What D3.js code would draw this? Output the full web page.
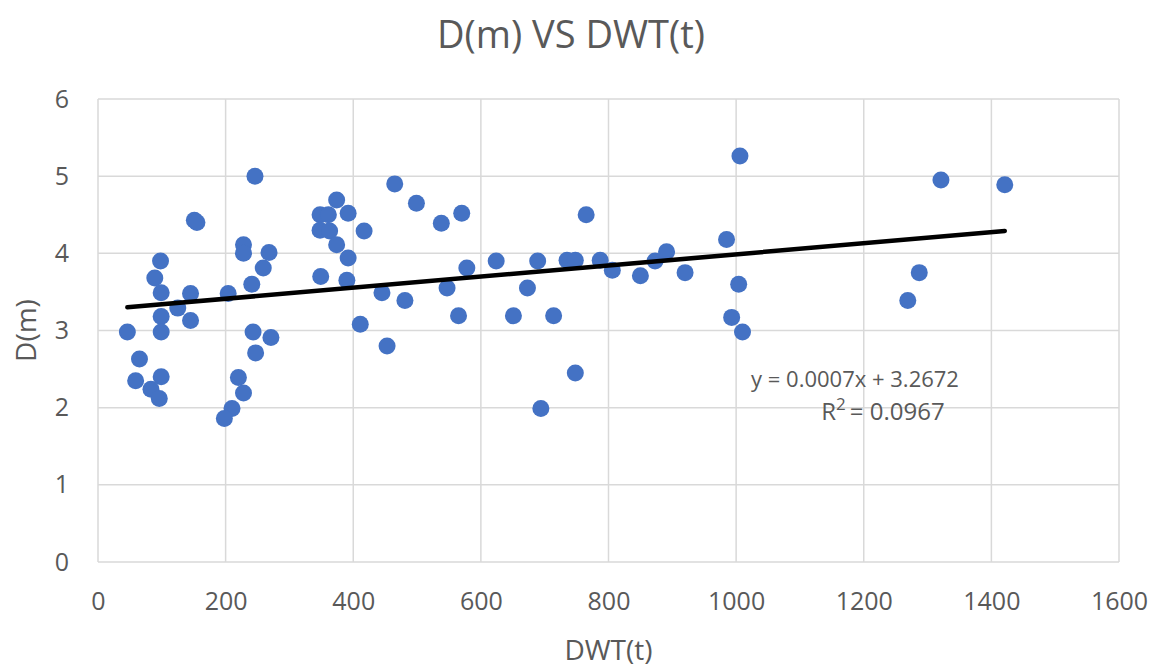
<!DOCTYPE html>
<html>
<head>
<meta charset="utf-8">
<script src="https://cdn.jsdelivr.net/npm/d3@7"></script>
<style>
  body { margin: 0; background: #fff; }
  text { font-family: "Open Sans", Lato, sans-serif; fill: #595959; }
</style>
</head>
<body>
<svg width="1153" height="670"></svg>
<script>
// DWT (t) and D (m)
var dwt = [246, 151, 155, 228, 228, 268, 98, 259, 89, 241, 99, 145, 204, 125, 99, 145, 46, 99, 243, 271,
           65, 247, 59, 99, 83, 96, 220, 228, 210, 198,
           465, 374, 499, 348, 361, 392, 570, 538, 348, 363, 417, 374, 392, 578, 349, 390, 445, 481, 547,
           411, 565, 453,
           765, 624, 689, 735, 748, 787, 806, 850, 873, 891, 673, 651, 714, 748, 694,
           1006, 985, 920, 1004, 993, 1010,
           1321, 1421, 1287, 1269];
var depth = [5.00, 4.43, 4.40, 4.11, 4.00, 4.01, 3.90, 3.81, 3.68, 3.60, 3.49, 3.48, 3.48, 3.29, 3.18, 3.13, 2.98, 2.98, 2.98, 2.91,
             2.63, 2.71, 2.35, 2.40, 2.24, 2.12, 2.39, 2.19, 1.99, 1.86,
             4.90, 4.69, 4.65, 4.50, 4.50, 4.52, 4.52, 4.39, 4.30, 4.29, 4.29, 4.11, 3.94, 3.81, 3.70, 3.65, 3.49, 3.39, 3.55,
             3.08, 3.19, 2.80,
             4.50, 3.90, 3.90, 3.91, 3.91, 3.91, 3.78, 3.71, 3.90, 4.02, 3.55, 3.19, 3.19, 2.45, 1.99,
             5.26, 4.18, 3.75, 3.60, 3.17, 2.98,
             4.95, 4.89, 3.75, 3.39];

var xTicks = [0, 200, 400, 600, 800, 1000, 1200, 1400, 1600];
var yTicks = [0, 1, 2, 3, 4, 5, 6];

// trendline from the picture
var slope = 0.00072, intercept = 3.2672;
var eqLabel = "y = 0.0007x + 3.2672";
var r2Label = "0.0967";

var svg = d3.select("svg"),
    width = +svg.attr("width"),
    height = +svg.attr("height"),
    margin = {top: 99, right: 34, bottom: 108, left: 98};

var x = d3.scaleLinear().domain([0, 1600]).range([margin.left, width - margin.right]);
var y = d3.scaleLinear().domain([0, 6]).range([height - margin.bottom, margin.top]);

// grid
svg.append("g")
    .selectAll("line")
    .data(yTicks)
    .enter().append("line")
    .attr("x1", x(0)).attr("x2", x(1600))
    .attr("y1", function(d) { return y(d); })
    .attr("y2", function(d) { return y(d); })
    .attr("stroke", "#d9d9d9").attr("stroke-width", 1.5);

svg.append("g")
    .selectAll("line")
    .data(xTicks)
    .enter().append("line")
    .attr("y1", y(0)).attr("y2", y(6))
    .attr("x1", function(d) { return x(d); })
    .attr("x2", function(d) { return x(d); })
    .attr("stroke", "#d9d9d9").attr("stroke-width", 1.5);

// axes (labels only)
svg.append("g")
    .attr("transform", "translate(0," + y(0) + ")")
    .call(d3.axisBottom(x).tickValues(xTicks).tickSize(0).tickPadding(30).tickFormat(d3.format("d")));
svg.append("g")
    .attr("transform", "translate(" + x(0) + ",0)")
    .call(d3.axisLeft(y).tickValues(yTicks).tickSize(0).tickPadding(29).tickFormat(d3.format("d")));
svg.selectAll(".domain").remove();
svg.selectAll(".tick text")
    .attr("font-size", 25)
    .attr("fill", "#595959")
    .style("font-family", "'Open Sans', Lato, sans-serif");

// points
svg.append("g")
    .selectAll("circle")
    .data(dwt)
    .enter().append("circle")
    .attr("cx", function(d) { return x(d); })
    .attr("cy", function(d, i) { return y(depth[i]); })
    .attr("r", 8.5)
    .attr("fill", "#4472c4");

// trendline
var x0 = d3.min(dwt), x1 = d3.max(dwt);
svg.append("line")
    .attr("x1", x(x0)).attr("y1", y(intercept + slope * x0))
    .attr("x2", x(x1)).attr("y2", y(intercept + slope * x1))
    .attr("stroke", "#000").attr("stroke-width", 4.5)
    .attr("stroke-linecap", "round");

// equation
svg.append("text")
    .attr("x", 855).attr("y", 387)
    .attr("text-anchor", "middle")
    .attr("font-size", 22)
    .text(eqLabel);
var r2 = svg.append("text")
    .attr("x", 883).attr("y", 420)
    .attr("text-anchor", "middle")
    .attr("font-size", 24);
r2.append("tspan").text("R");
r2.append("tspan").attr("dy", -10).attr("font-size", 17).text("2");
r2.append("tspan").attr("dy", 10).attr("dx", 4).text("= " + r2Label);

// titles
svg.append("text")
    .attr("x", 571).attr("y", 48)
    .attr("text-anchor", "middle")
    .attr("font-size", 38)
    .text("D(m) VS DWT(t)");

svg.append("text")
    .attr("x", x(800)).attr("y", 660)
    .attr("text-anchor", "middle")
    .attr("font-size", 28)
    .text("DWT(t)");

svg.append("text")
    .attr("transform", "translate(36," + y(3) + ") rotate(-90)")
    .attr("text-anchor", "middle")
    .attr("font-size", 28)
    .text("D(m)");
</script>
</body>
</html>
